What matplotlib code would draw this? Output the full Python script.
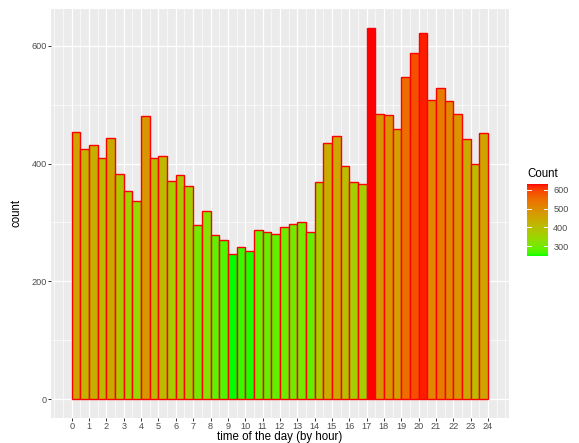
import numpy as np
import matplotlib
matplotlib.use("Agg")
import matplotlib.pyplot as plt
from matplotlib.colors import LinearSegmentedColormap, Normalize
from matplotlib.cm import ScalarMappable

plt.rcParams['font.family'] = ['Liberation Sans', 'DejaVu Sans']

# ---- data ----
bin_width = 0.5
bin_starts = np.arange(0, 24, bin_width)
counts = [454, 425, 432, 410, 444, 383, 354, 337, 480, 409, 413, 371, 381, 362,
          295, 320, 279, 270, 247, 258, 251, 287, 283, 280, 292, 297, 300, 284,
          368, 435, 447, 396, 368, 365, 631, 484, 483, 459, 547, 587, 622, 508,
          529, 506, 485, 441, 400, 452]
x_ticks = list(range(0, 25))
y_ticks = [0, 200, 400, 600]
legend_ticks = [300, 400, 500, 600]

# ---- Lab gradient green -> red (like ggplot scale_fill_gradient) ----
def srgb_to_lab(rgb):
    c = np.array(rgb, float)
    c = np.where(c <= 0.04045, c / 12.92, ((c + 0.055) / 1.055) ** 2.4)
    M = np.array([[0.4124, 0.3576, 0.1805], [0.2126, 0.7152, 0.0722], [0.0193, 0.1192, 0.9505]])
    xyz = M @ c
    wp = np.array([0.95047, 1.0, 1.08883])
    t = xyz / wp
    f = np.where(t > 216 / 24389, np.cbrt(t), (24389 / 27 * t + 16) / 116)
    return np.array([116 * f[1] - 16, 500 * (f[0] - f[1]), 200 * (f[1] - f[2])])

def lab_to_srgb(lab):
    L, a, b = lab
    fy = (L + 16) / 116
    fx = fy + a / 500
    fz = fy - b / 200
    def finv(f):
        return f ** 3 if f ** 3 > 216 / 24389 else (116 * f - 16) / (24389 / 27)
    wp = np.array([0.95047, 1.0, 1.08883])
    xyz = np.array([finv(fx), finv(fy), finv(fz)]) * wp
    Minv = np.array([[3.2406, -1.5372, -0.4986], [-0.9689, 1.8758, 0.0415], [0.0557, -0.2040, 1.0570]])
    c = Minv @ xyz
    c = np.clip(c, 0, 1)
    c = np.where(c <= 0.0031308, 12.92 * c, 1.055 * c ** (1 / 2.4) - 0.055)
    return np.clip(c, 0, 1)

lab_lo = srgb_to_lab([0, 1, 0])
lab_hi = srgb_to_lab([1, 0, 0])
cols = [lab_to_srgb(lab_lo + (lab_hi - lab_lo) * t) for t in np.linspace(0, 1, 256)]
cmap = LinearSegmentedColormap.from_list("gr", cols)
norm = Normalize(vmin=min(counts), vmax=max(counts))

# ---- figure ----
W, H = 579, 443
fig = plt.figure(figsize=(W / 100, H / 100), dpi=100)
pl, pr, pt, pb = 51, 508.7, 9, 417.7
ax = fig.add_axes([pl / W, 1 - pb / H, (pr - pl) / W, (pb - pt) / H])
ax.set_facecolor('#EBEBEB')
for s in ax.spines.values():
    s.set_visible(False)

ax.set_xlim(-1.2, 25.2)
ax.set_ylim(-31.55, 662.55)

# grid
for v in np.arange(-1, 25.5, 0.5):
    if v in x_ticks:
        ax.axvline(v, color='white', lw=0.9, zorder=0.6)
    else:
        ax.axvline(v, color='white', lw=0.45, zorder=0.5)
for v in [100, 300, 500]:
    ax.axhline(v, color='white', lw=0.45, zorder=0.5)
for v in y_ticks:
    ax.axhline(v, color='white', lw=0.9, zorder=0.6)

ax.bar(bin_starts, counts, width=bin_width, align='edge',
       color=[cmap(norm(c)) for c in counts], edgecolor='#FF0000', linewidth=1.0, zorder=2)

ax.set_xticks(x_ticks)
ax.set_xticklabels([str(t) for t in x_ticks])
ax.set_yticks(y_ticks)
ax.tick_params(axis='both', colors='#333333', length=2, width=0.7, labelsize=6.6,
               labelcolor='#4D4D4D', pad=1.0)

# axis titles placed at the reference positions
fig.text((pl + pr) / 2 / W, 1 - 437 / H, 'time of the day (by hour)', fontsize=8.3,
         ha='center', va='center', color='black')
fig.text(17 / W, 1 - (pt + pb) / 2 / H, 'count', fontsize=8.3, rotation=90,
         ha='center', va='center', color='black')

# ---- colourbar legend ----
cb_top, cb_bot = 184.2, 255.9
cax = fig.add_axes([527.3 / W, 1 - cb_bot / H, 20.4 / W, (cb_bot - cb_top) / H])
sm = ScalarMappable(norm=norm, cmap=cmap)
cb = fig.colorbar(sm, cax=cax, ticks=legend_ticks)
cb.outline.set_visible(False)
cax.tick_params(length=0, labelsize=6.6, labelcolor='#4D4D4D', pad=4)
for t in legend_ticks:
    cax.plot([0, 0.2], [t, t], color='white', lw=0.7, transform=cax.get_yaxis_transform())
    cax.plot([0.8, 1.0], [t, t], color='white', lw=0.7, transform=cax.get_yaxis_transform())
fig.text(527.3 / W, 1 - 174 / H, 'Count', fontsize=8.3, va='center', ha='left')

fig.savefig('out.png', dpi=100, facecolor='white')
